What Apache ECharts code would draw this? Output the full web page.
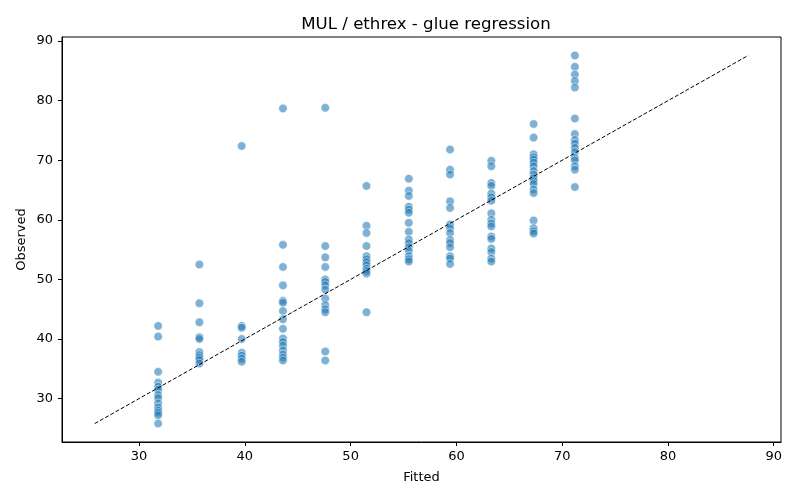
<!DOCTYPE html>
<html>
<head>
<meta charset="utf-8">
<script src="https://cdn.jsdelivr.net/npm/echarts@6/dist/echarts.min.js"></script>
<style>html,body{margin:0;padding:0;background:#fff}#c{width:800px;height:500px}</style>
</head>
<body>
<div id="c"></div>
<script>
var fittedLevels = [31.8, 35.7, 39.7, 43.6, 47.6, 51.5, 55.5, 59.4, 63.3, 67.3, 71.2];
var obs31 = [42.2, 40.4, 34.5, 32.7, 32.0, 31.5, 30.6, 30.1, 29.2, 28.5, 28.0, 27.6, 27.2, 25.8];
var obs35 = [52.5, 46.0, 42.8, 40.3, 40.0, 37.8, 37.3, 36.9, 36.5, 35.9];
var obs39 = [72.4, 42.2, 41.9, 40.0, 37.7, 37.2, 36.7, 36.2];
var obs43 = [78.7, 55.8, 52.1, 49.0, 46.4, 46.1, 44.7, 43.3, 41.7, 40.1, 39.5, 38.9, 38.1, 37.4, 36.9, 36.4];
var obs47 = [78.8, 55.6, 53.7, 52.1, 50.0, 49.6, 49.0, 48.3, 46.8, 45.7, 45.0, 44.5, 37.9, 36.4];
var obs51 = [65.7, 59.0, 57.8, 55.6, 53.9, 53.4, 52.9, 52.4, 51.8, 51.4, 51.0, 44.5];
var obs55 = [66.9, 64.9, 64.0, 62.2, 61.7, 61.2, 59.5, 58.0, 56.7, 56.1, 55.4, 54.8, 53.9, 53.4, 53.0];
var obs59 = [71.8, 68.4, 67.6, 63.1, 62.0, 59.2, 58.6, 57.8, 56.6, 56.1, 55.4, 53.9, 53.5, 52.6];
var obs63 = [69.9, 69.0, 66.2, 65.7, 64.4, 63.8, 63.2, 61.1, 60.0, 59.4, 58.9, 57.2, 56.8, 55.2, 54.6, 53.5, 53.0];
var obs67 = [76.1, 73.8, 71.0, 70.5, 70.1, 69.6, 69.0, 68.2, 67.6, 67.0, 66.5, 66.0, 65.1, 64.5, 59.9, 58.6, 58.1, 57.7];
var obs71 = [87.6, 85.7, 84.4, 83.3, 82.2, 77.0, 74.4, 73.4, 72.8, 72.1, 71.4, 70.4, 70.0, 69.0, 68.4, 65.5];
var tickValues = [30, 40, 50, 60, 70, 80, 90];

var observedByLevel = [obs31, obs35, obs39, obs43, obs47, obs51, obs55, obs59, obs63, obs67, obs71];
var points = [];
observedByLevel.forEach(function (arr, i) {
  arr.forEach(function (v) { points.push([fittedLevels[i], v]); });
});
var allVals = [];
points.forEach(function (p) { allVals.push(p[0], p[1]); });
var lo = Math.min.apply(null, allVals), hi = Math.max.apply(null, allVals);
var pad = (hi - lo) * 0.05;
var axMin = lo - pad, axMax = hi + pad;

var font = 'DejaVu Sans';
function axis(name, gap, margin) {
  return {
    type: 'value', min: axMin, max: axMax,
    name: name, nameLocation: 'middle', nameGap: gap, nameMoveOverlap: false,
    nameTextStyle: { fontFamily: font, fontSize: 13, color: '#000' },
    axisLine: { show: true, lineStyle: { color: '#000', width: 1 } },
    axisTick: { show: true, length: 4, inside: false, customValues: tickValues, lineStyle: { color: '#000' } },
    axisLabel: { customValues: tickValues, fontFamily: font, fontSize: 13, color: '#000', margin: margin },
    splitLine: { show: false }
  };
}
var chart = echarts.init(document.getElementById('c'), null, { renderer: 'canvas' });
chart.setOption({
  animation: false,
  backgroundColor: '#fff',
  title: {
    text: 'MUL / ethrex - glue regression',
    left: 421, textAlign: 'center', top: 11,
    textStyle: { fontFamily: font, fontSize: 16.6, fontWeight: 'normal', color: '#000' }
  },
  grid: { left: 62, right: 19, top: 37, bottom: 58, show: true, borderColor: '#000', borderWidth: 1, backgroundColor: 'transparent' },
  xAxis: axis('Fitted', 29, 8),
  yAxis: axis('Observed', 34, 9),
  series: [
    {
      type: 'scatter', data: points, symbolSize: 8.5,
      itemStyle: { color: 'rgba(31,119,180,0.72)', borderColor: '#fff', borderWidth: 0.6 },
      z: 2
    },
    {
      type: 'line', data: [[lo, lo], [hi, hi]], symbol: 'none',
      lineStyle: { color: '#000', width: 1, type: [4, 2] },
      z: 3
    }
  ]
});
</script>
</body>
</html>
